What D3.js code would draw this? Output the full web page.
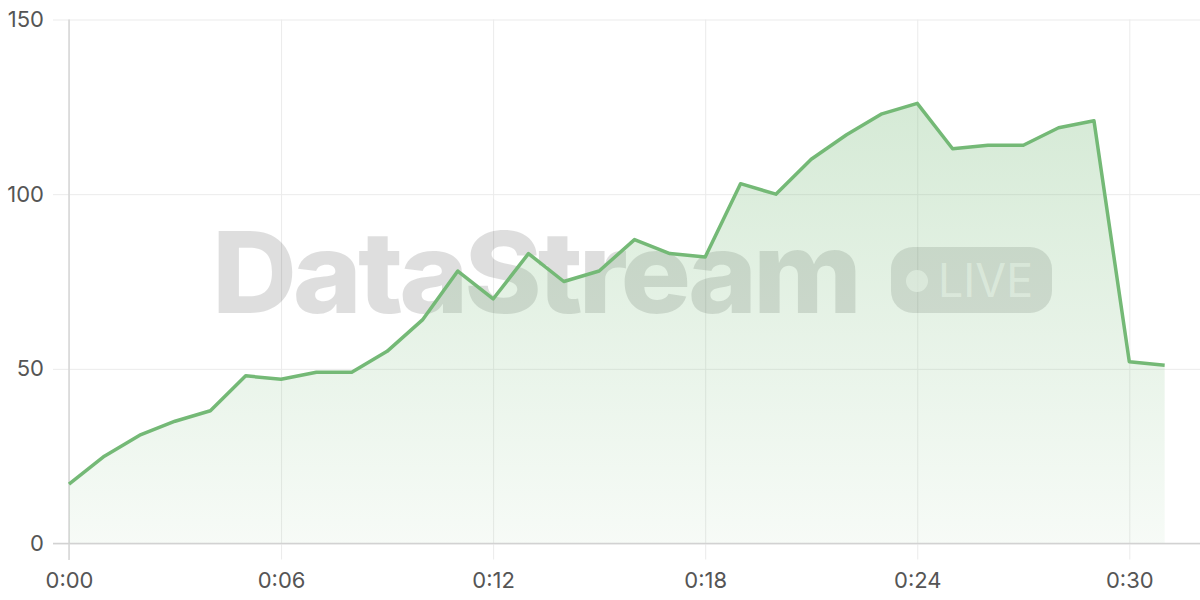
<!DOCTYPE html>
<html><head><meta charset="utf-8">
<script src="https://cdn.jsdelivr.net/npm/d3@7"></script>
<style>html,body{margin:0;padding:0;background:#fff;}svg{display:block;font-family:Inter,"Noto Sans",sans-serif;}</style>
</head><body>
<svg id="c" width="1200" height="600"></svg>
<script>
const minutes = d3.range(0, 32);
const values = [17,25,31,35,38,48,47,49,49,55,64,78,70,83,75,78,87,83,82,103,100,110,117,123,126,113,114,114,119,121,52,51];
const xTicks = [0,6,12,18,24,30];
const yTicks = [0,50,100,150];
const watermarkText = "DataStream";
const badgeText = "LIVE";

const svg = d3.select("#c");
const x = d3.scaleLinear().domain([0,32]).range([69,1200]);
const y = d3.scaleLinear().domain([0,150]).range([543.5,19.5]);
const data = minutes.map((m,i)=>({m, v: values[i]}));
const fmt = m => "0:" + String(m).padStart(2,"0");

const defs = svg.append("defs");
const grad = defs.append("linearGradient").attr("id","g")
  .attr("gradientUnits","userSpaceOnUse").attr("x1",0).attr("x2",0).attr("y1",y(126)).attr("y2",y(0));
grad.append("stop").attr("offset","0").attr("stop-color","#74b976").attr("stop-opacity",0.3);
grad.append("stop").attr("offset","1").attr("stop-color","#74b976").attr("stop-opacity",0.06);

// grid
const gy = svg.append("g").attr("transform","translate(69,0)")
  .call(d3.axisLeft(y).tickValues(yTicks).tickSize(16).tickPadding(9));
gy.select(".domain").remove();
gy.selectAll(".tick line").attr("stroke","#ebebeb").attr("x2",1200-69).attr("x1",-16);
gy.selectAll(".tick text").attr("font-size",22).attr("fill","#555").attr("font-family","Inter,sans-serif").attr("x",-25);

const gx = svg.append("g").attr("transform","translate(0,543.5)")
  .call(d3.axisBottom(x).tickValues(xTicks).tickFormat(fmt).tickSize(16).tickPadding(13));
gx.select(".domain").remove();
gx.selectAll(".tick line").attr("stroke","#ebebeb").attr("y1",-524).attr("y2",16);
gx.selectAll(".tick text").attr("font-size",22).attr("fill","#555").attr("font-family","Inter,sans-serif");

// axis lines
svg.append("line").attr("x1",69).attr("x2",69).attr("y1",19.5).attr("y2",560).attr("stroke","#d6d6d6").attr("stroke-width",1.5);

// watermark
const wm = svg.append("g");
wm.append("text").attr("x",212).attr("y",313).text(watermarkText)
  .attr("font-size",113).attr("font-weight",800).attr("letter-spacing",-4)
  .attr("textLength",646).attr("lengthAdjust","spacingAndGlyphs")
  .attr("fill","rgba(0,0,0,0.13)");
wm.append("rect").attr("x",891).attr("y",247).attr("width",161).attr("height",66).attr("rx",22)
  .attr("fill","rgba(0,0,0,0.12)");
wm.append("circle").attr("cx",917).attr("cy",281).attr("r",11).attr("fill","rgba(255,255,255,0.65)");
wm.append("text").attr("x",938).attr("y",297).text(badgeText).attr("font-size",47).attr("font-weight",400)
  .attr("textLength",95).attr("lengthAdjust","spacingAndGlyphs")
  .attr("fill","rgba(255,255,255,0.65)");

// area + line
const area = d3.area().x(d=>x(d.m)).y0(y(0)).y1(d=>y(d.v));
svg.append("path").datum(data).attr("d",area).attr("fill","url(#g)");
svg.append("line").attr("x1",53).attr("x2",1200).attr("y1",543.5).attr("y2",543.5).attr("stroke","#d2d2d2").attr("stroke-width",1.5);
const line = d3.line().x(d=>x(d.m)).y(d=>y(d.v));
svg.append("path").datum(data).attr("d",line).attr("fill","none").attr("stroke","#74b976").attr("stroke-width",3.5).attr("stroke-linejoin","round");
</script>
</body></html>
